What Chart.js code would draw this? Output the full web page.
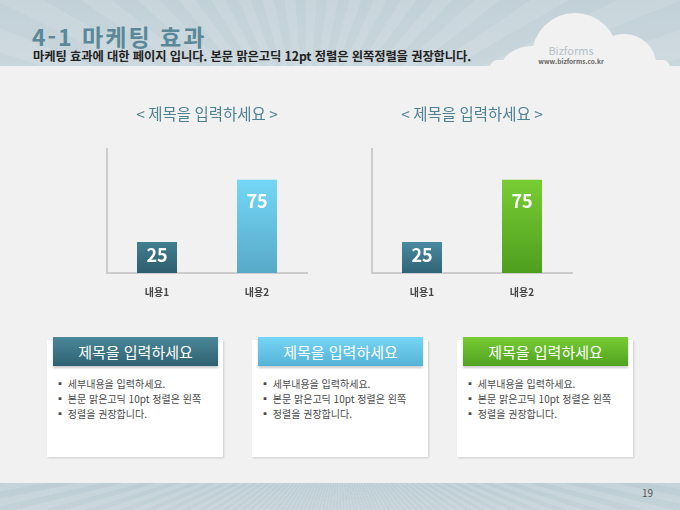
<!DOCTYPE html>
<html lang="ko">
  <head>
    <meta charset="UTF-8">
    <title>4-1 마케팅 효과</title>
    <script src="https://cdn.jsdelivr.net/npm/chart.js@4"></script>
    <style>
      body { margin: 0; width: 680px; height: 510px; overflow: hidden; background: #f1f1f1;
             font-family: "Noto Sans CJK KR", "Noto Sans", sans-serif; position: relative; }
      .header { position: absolute; left: 0; top: 0; width: 680px; height: 66px; overflow: hidden;
                background:
                  repeating-conic-gradient(from 160deg at 45% 230%, rgba(255,255,255,0.10) 0 4deg, rgba(255,255,255,0) 4deg 8deg),
                  linear-gradient(#c2d1d8, #c9d6dc); }
      .header h1 { position: absolute; left: 32px; top: 25px; margin: 0; font-size: 23px; line-height: 1;
                   letter-spacing: 2px; font-weight: bold; color: #5a8899; }
      .header p { position: absolute; left: 33px; top: 50px; margin: 0; font-size: 12.3px; line-height: 1;
                  font-weight: bold; color: #222; letter-spacing: -0.1px; }
      .cloud { position: absolute; background: #f1f1f1; border-radius: 50%; }
      .brand { position: absolute; left: 528px; top: 42px; width: 86px; text-align: center; color: #b2c1c8; font-size: 11px; }
      .url { position: absolute; left: 528px; top: 56px; width: 86px; text-align: center; color: #666; font-size: 6.5px; font-weight: bold; }
      .footer { position: absolute; left: 0; top: 483px; width: 680px; height: 27px; overflow: hidden;
                background:
                  repeating-conic-gradient(from 130deg at 50% -200%, rgba(255,255,255,0.12) 0 1.2deg, rgba(255,255,255,0) 1.2deg 2.4deg),
                  linear-gradient(#bccdd5, #c4d3d9); }
      .footer span { position: absolute; left: 642px; top: 2px; font-size: 10px; color: #555; }
      .chart { position: absolute; top: 100px; }
      .card { position: absolute; top: 340px; width: 176px; height: 117px; background: #fff;
              box-shadow: 1px 1px 2px rgba(0,0,0,0.15); }
      .card .head { position: absolute; left: 6px; top: -3px; width: 165px; height: 29px; color: #fff;
                    font-size: 15px; line-height: 29px; text-align: center; box-shadow: 0 2px 2px rgba(0,0,0,0.2); }
      .card ul { position: absolute; left: 8px; top: 36px; margin: 0; padding: 0; list-style: none;
                 font-size: 10px; line-height: 15px; color: #4a4a4a; white-space: nowrap; }
    </style>
  </head>
  <body>
    <div class="header">
      <h1>4-1 마케팅 효과</h1>
      <p>마케팅 효과에 대한 페이지 입니다. 본문 맑은고딕 12pt 정렬은 왼쪽정렬을 권장합니다.</p>
    </div>
    <div class="cloud" style="left:532px; top:13px; width:86px; height:86px;"></div>
    <div class="cloud" style="left:592px; top:34px; width:64px; height:60px;"></div>
    <div class="cloud" style="left:500px; top:46px; width:64px; height:50px;"></div>
    <div class="cloud" style="left:490px; top:60px; width:180px; height:20px; border-radius:8px;"></div>
    <div class="brand">Bizforms</div>
    <div class="url">www.bizforms.co.kr</div>

    <canvas id="chartLeft" class="chart" style="left:87px;" width="240" height="218"></canvas>
    <canvas id="chartRight" class="chart" style="left:352px;" width="240" height="218"></canvas>

    <div id="cards"></div>

    <div class="footer"><span>19</span></div>

    <script>
      // 데이터
      const categories = ['내용1', '내용2'];
      const leftValues = [25, 75];
      const rightValues = [25, 75];
      const chartTitle = '< 제목을 입력하세요 >';
      const cardTitles = ['제목을 입력하세요', '제목을 입력하세요', '제목을 입력하세요'];
      const cardLines = ['세부내용을 입력하세요.', '본문 맑은고딕 10pt 정렬은 왼쪽', '정렬을 권장합니다.'];

      Chart.defaults.font.family = '"Noto Sans CJK KR", "Noto Sans", sans-serif';

      // 막대 위 값 표시
      const barLabels = {
        id: 'barLabels',
        afterDatasetsDraw(chart) {
          const ctx = chart.ctx;
          const meta = chart.getDatasetMeta(0);
          ctx.save();
          ctx.fillStyle = '#fff';
          ctx.font = 'bold 18px "Noto Sans CJK KR", sans-serif';
          ctx.textAlign = 'center';
          ctx.textBaseline = 'middle';
          meta.data.forEach((bar, i) => {
            const h = bar.base - bar.y;
            const dy = Math.min(21, h / 2 - 2);
            ctx.fillText(chart.data.datasets[0].data[i], bar.x, bar.y + dy);
          });
          ctx.restore();
        }
      };

      function makeChart(id, values, colors) {
        return new Chart(document.getElementById(id), {
          type: 'bar',
          data: {
            labels: categories,
            datasets: [{
              data: values,
              barPercentage: 0.4,
              categoryPercentage: 1,
              backgroundColor: (c) => {
                const chart = c.chart;
                const y = chart.scales.y;
                const pair = colors[c.dataIndex];
                if (!y || c.raw === undefined) return pair[0];
                const top = y.getPixelForValue(c.raw);
                const bottom = y.getPixelForValue(0);
                if (!isFinite(top) || !isFinite(bottom) || top === bottom) return pair[0];
                const g = chart.ctx.createLinearGradient(0, top, 0, bottom);
                g.addColorStop(0, pair[0]);
                g.addColorStop(1, pair[1]);
                return g;
              }
            }]
          },
          options: {
            responsive: false,
            animation: false,
            layout: { padding: { left: 20, right: 20, top: 0, bottom: 7 } },
            plugins: {
              legend: { display: false },
              tooltip: { enabled: false },
              title: {
                display: true,
                text: chartTitle,
                color: '#4d8192',
                font: { size: 15.5, weight: 'normal' },
                padding: { top: 5, bottom: 25 }
              }
            },
            scales: {
              x: {
                grid: { display: false, drawTicks: false },
                border: { color: '#cccccc', width: 2 },
                ticks: { color: '#444', font: { size: 10, weight: 'bold' }, padding: 13 }
              },
              y: {
                min: 0,
                max: 100,
                grid: { display: false, drawTicks: false },
                border: { color: '#cccccc', width: 2 },
                ticks: { display: false }
              }
            }
          },
          plugins: [barLabels]
        });
      }

      makeChart('chartLeft', leftValues, [['#427e91', '#2e5e6e'], ['#74d7f7', '#58a9c8']]);
      makeChart('chartRight', rightValues, [['#4a8aa0', '#2f6476'], ['#78cd33', '#4e9e1e']]);

      // 하단 카드
      const cardLeft = [47, 252, 457];
      const cardHead = [['#4a8799', '#2f6272'], ['#76d6f5', '#55b2d6'], ['#78cc33', '#50a221']];
      const cards = document.getElementById('cards');
      cardTitles.forEach((t, i) => {
        const card = document.createElement('div');
        card.className = 'card';
        card.style.left = cardLeft[i] + 'px';
        const head = document.createElement('div');
        head.className = 'head';
        head.textContent = t;
        head.style.background = 'linear-gradient(' + cardHead[i][0] + ', ' + cardHead[i][1] + ')';
        card.appendChild(head);
        const ul = document.createElement('ul');
        cardLines.forEach(line => {
          const li = document.createElement('li');
          li.textContent = '▪ ' + line;
          ul.appendChild(li);
        });
        card.appendChild(ul);
        cards.appendChild(card);
      });
    </script>
  </body>
</html>
